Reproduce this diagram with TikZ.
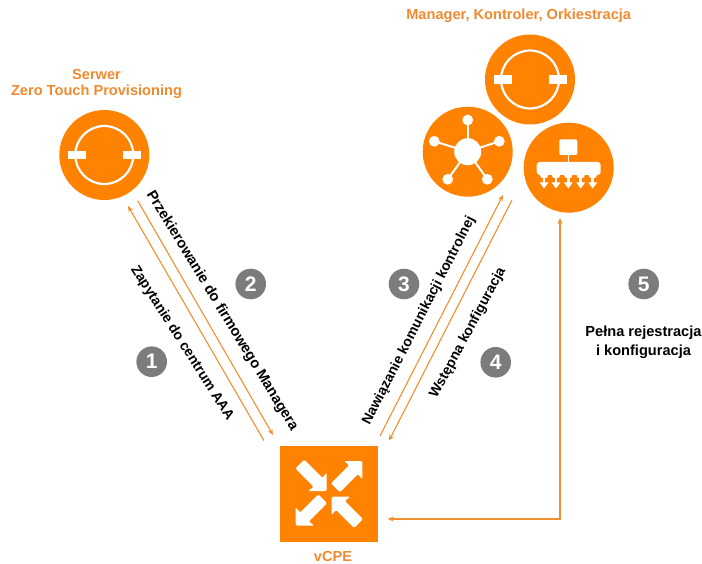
\documentclass[tikz,border=0pt]{standalone}
\usepackage{fontspec}
\setmainfont{Liberation Sans}
\definecolor{og}{HTML}{FF8200}
\definecolor{ogt}{HTML}{F08A30}
\definecolor{ogl}{HTML}{F09030}
\definecolor{gy}{HTML}{7C7C7C}
\usetikzlibrary{arrows.meta}
\tikzset{
 every node/.style={font=\bfseries},
 disc/.style={circle,fill=og,minimum size=90pt,inner sep=0},
 badge/.style={circle,fill=gy,text=white,minimum size=30.6pt,inner sep=0,font=\bfseries\fontsize{21}{21}\selectfont},
 conn/.style={draw=ogl,line width=1.1pt,-{Stealth[length=6pt,width=5pt]}},
 lab/.style={font=\bfseries\fontsize{14.6}{16}\selectfont,text=black,inner sep=0},
 labs/.style={font=\bfseries\fontsize{14}{16}\selectfont,text=black,inner sep=0},
 head/.style={font=\bfseries\fontsize{14.6}{16.7}\selectfont,text=ogt,inner sep=0,align=center},
}
\newcommand{\srv}[1]{%
 \draw[white,line width=2.2pt] (#1.center) circle (29pt);
 \fill[white] ([shift={(-36,-4.3)}]#1.center) rectangle ++(18,8.6);
 \fill[white] ([shift={(19,-4.3)}]#1.center) rectangle ++(18,8.6);
}
\newcommand{\cpearrow}[4]{%
 \fill[white,rounded corners=1.3pt] (#1,#2) -- ({#1-18.5*#3},#2) -- ({#1-13.15*#3},{#2-4.25*#4}) -- ({#1-31.35*#3},{#2-22.45*#4}) -- ({#1-22.45*#3},{#2-31.35*#4}) -- ({#1-4.25*#3},{#2-13.15*#4}) -- (#1,{#2-18.5*#4}) -- cycle;
}
\begin{document}
\begin{tikzpicture}[x=1pt,y=-1pt]
\useasboundingbox (0,0) rectangle (702,564);
% discs
\node[disc] (zt) at (104.3,155) {};
\node[disc] (mgr) at (530,79.5) {};
\node[disc] (ctl) at (467.7,151.7) {};
\node[disc] (orc) at (568.7,167.7) {};
\node[rectangle,fill=og,minimum width=98pt,minimum height=96pt,inner sep=0] (cpe) at (328.8,493.7) {};
% icons
\srv{zt}
\srv{mgr}
% hub icon
\coordinate (h1) at (467.7,120);
\coordinate (h2) at (434.3,141.3);
\coordinate (h3) at (499.3,141.3);
\coordinate (h4) at (447.7,179.3);
\coordinate (h5) at (487.3,179.3);
\foreach \p in {h1,h2,h3,h4,h5}{
 \draw[white,line width=2pt] (ctl.center) -- (\p);
 \fill[white] (\p) circle (5.4pt);
}
\fill[white] (ctl.center) circle (13.5pt);
% orchestrator icon
\fill[white,rounded corners=2pt] (559.3,139.3) rectangle (577.3,155);
\draw[white,line width=1.5pt] (568.5,155) -- (568.5,163);
\fill[white,rounded corners=3pt] (536.7,162) rectangle (600.7,175);
\foreach \x in {544,556,568.3,580.7,592.7}{
 \fill[white] (\x,174) circle (4.6pt);
 \draw[white,line width=2.6pt] (\x,176) -- (\x,183);
 \fill[white] (\x-4.4,182.5) -- (\x+4.4,182.5) -- (\x,188.5) -- cycle;
}
% vCPE arrows
\cpearrow{326.7}{491}{1}{1}
\cpearrow{362.3}{461}{1}{-1}
\cpearrow{295.7}{525.7}{-1}{1}
\cpearrow{331.7}{496.7}{-1}{-1}
% texts
\node[head] at (96.5,84) {Serwer\\Zero Touch Provisioning};
\node[head] at (518.7,15.3) {Manager, Kontroler, Orkiestracja};
\node[head] at (333,556.5) {vCPE};
% connectors
\coordinate (a1s) at (264,440.7); \coordinate (a1e) at (128,206);
\coordinate (a2s) at (137.7,200.7); \coordinate (a2e) at (273,435);
\coordinate (a3s) at (380,436); \coordinate (a3e) at (503,195);
\coordinate (a4s) at (512,200); \coordinate (a4e) at (389,440.7);
\coordinate (a5c) at (560,519);
\coordinate (a5e) at (560,218); \coordinate (a5s) at (387.7,519);
\draw[conn] (a1s) -- (a1e);
\draw[conn] (a2s) -- (a2e);
\draw[conn] (a3s) -- (a3e);
\draw[conn] (a4s) -- (a4e);
\draw[conn,{Stealth[length=6pt,width=5pt]}-{Stealth[length=6pt,width=5pt]}] (a5s) -- (a5c) -- (a5e);
% labels
\node[labs,rotate=-57.5] at (182,343) {Zapytanie do centrum AAA};
\node[lab,rotate=-58.6] at (222,311) {Przekierowanie do firmowego Managera};
\node[labs,rotate=63] at (419,321) {Nawiązanie komunikacji kontrolnej};
\node[labs,rotate=61.7] at (468,333) {Wstępna konfiguracja};
\node[lab,align=center,font=\bfseries\fontsize{14.6}{19}\selectfont] at (643.5,342) {Pełna rejestracja\\i konfiguracja};
% badges
\node[badge] (b1) at (151.7,361.7) {1};
\node[badge] (b2) at (250.7,284) {2};
\node[badge] (b3) at (404,284) {3};
\node[badge] (b4) at (495.7,362.3) {4};
\node[badge] (b5) at (643.7,284) {5};
\end{tikzpicture}
\end{document}
